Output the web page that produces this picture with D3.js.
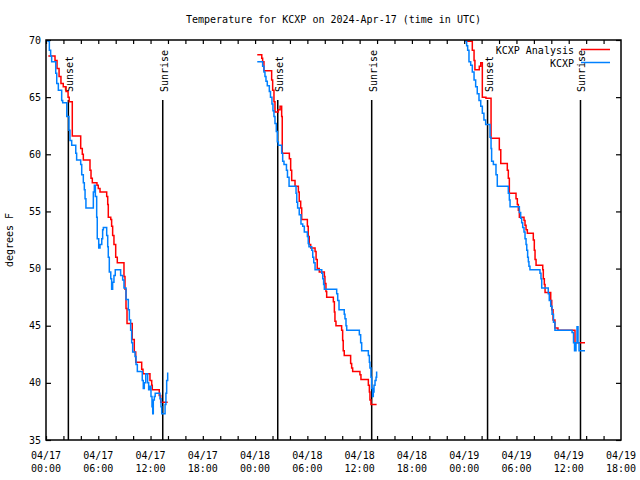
<!DOCTYPE html>
<html><head><meta charset="utf-8">
<script src="https://cdn.jsdelivr.net/npm/d3@7/dist/d3.min.js"></script>
<style>
body{margin:0;background:#fff}
svg{display:block}
text{font-family:"DejaVu Sans Mono",monospace;font-size:10px;fill:#000}
</style></head><body>
<svg id="c" width="640" height="480"></svg>
<script>
// ---------- data (minutes after 2024-04-17 00:00 UTC, temperature in F) ----------
const obsMinutes = [
  9,23,32,39,67,74,85,108,115,143,158,165,177,205,211,239,246,257,264,269,275,326,333,340,349,353,363,372,384,390,395,418,425,429,436,446,452,459,468,477,514,528,537,551,567,574,583,590,597,613,620,629,663,670,677,687,700,707,716,723,730,735,739,746,752,785,792,797,820,826,831,838,
  1455,1492,1501,1508,1515,1524,1538,1546,1556,1563,1570,1577,1586,1593,1600,1623,1630,1639,1656,1663,1674,1722,1727,1733,1744,1756,1768,1779,1800,1806,1811,1830,1837,1844,1853,1899,1906,1912,1917,2002,2009,2018,2054,2059,2066,2071,2158,2167,2174,2220,2227,2231,2238,2243,2249,2254,2259,2266,2273,2277,
  2886,2897,2904,2913,2925,2936,2948,2959,2970,2982,2994,3005,3016,3028,3058,3065,3069,3081,3099,3108,3184,3191,3196,3260,3269,3276,3283,3292,3299,3306,3311,3317,3322,3326,3333,3402,3409,3414,3459,3466,3476,3485,3495,3505,3623,3633,3640,3650,3657,3664,3671,3712
];
const obsTemps = [
  69.9,69.1,68.6,68.1,67.1,66.2,65.6,64.7,64.5,63.3,62.1,61.2,60.8,60.1,59.5,59.1,58.2,57.5,56.9,56.1,55.3,56.7,57.3,56.3,54.5,52.6,51.8,52.1,52.6,53.4,53.6,52.9,51.9,51.0,49.7,49.1,48.2,48.8,49.4,49.9,49.4,49.0,48.3,47.3,46.4,45.5,44.6,43.5,42.7,42.3,41.6,41.0,40.2,39.5,40.0,40.8,40.0,39.4,39.7,38.8,37.9,37.3,38.5,38.8,39.1,38.6,37.9,37.3,38.1,39.1,40.2,40.9,
  68.1,67.7,67.2,66.8,66.4,66.0,65.5,65.0,64.4,63.8,63.3,62.7,62.0,61.1,60.8,60.1,59.4,59.1,58.6,58.0,57.2,56.6,55.8,55.3,54.7,53.9,53.7,53.2,52.8,52.2,51.9,51.6,51.0,50.5,49.9,49.6,49.1,48.6,48.2,47.8,47.2,46.4,46.0,45.6,45.0,44.6,44.2,43.5,42.8,42.4,41.8,41.3,40.5,39.5,38.8,39.2,39.8,40.2,40.5,41.0,
  69.9,69.5,69.1,68.1,67.8,67.2,66.5,65.9,65.3,64.7,64.2,63.6,63.0,62.6,61.5,60.5,59.4,59.1,58.2,57.2,56.6,56.0,55.4,54.9,54.4,54.0,53.6,53.2,52.6,52.1,51.6,51.0,50.6,50.2,49.9,49.6,49.1,48.3,47.8,47.2,46.7,46.0,45.3,44.6,44.4,43.5,42.8,43.5,44.9,43.5,42.8,42.8
];
const anaMinutes = [
  16,62,76,90,103,119,138,152,160,181,239,250,257,303,310,319,351,360,372,418,425,429,446,452,459,468,480,491,537,544,551,558,594,608,618,659,668,716,728,732,780,790,838,
  1455,1486,1492,1501,1554,1561,1570,1577,1600,1612,1623,1627,1676,1685,1692,1715,1738,1744,1754,1761,1800,1806,1813,1823,1853,1860,1868,1882,1917,1921,1928,1933,1979,1986,1990,1997,2036,2043,2047,2054,2098,2105,2112,2162,2169,2220,2227,2231,2238,2277,
  2886,2936,2948,2954,2984,2994,3005,3030,3065,3122,3132,3177,3184,3191,3237,3246,3253,3260,3292,3299,3306,3315,3356,3363,3368,3375,3421,3425,3432,3437,3476,3483,3492,3505,3526,3643,3712
];
const anaTemps = [
  68.6,68.2,67.5,66.8,66.2,65.9,65.5,65.0,64.6,61.6,60.5,60.0,59.5,58.6,57.9,57.5,57.3,57.0,56.7,56.3,55.6,54.5,54.3,53.7,52.9,52.1,51.0,50.5,49.3,48.2,46.5,45.2,43.8,42.7,41.8,41.2,40.8,40.2,39.8,39.4,38.9,38.3,38.3,
  68.7,68.4,68.1,67.3,66.5,65.6,64.6,63.7,63.9,64.2,63.3,60.1,59.6,58.6,57.7,57.2,56.7,55.9,55.3,54.3,53.7,52.8,52.1,51.8,51.5,50.8,50.0,49.7,49.3,48.7,48.0,47.5,47.1,46.2,45.4,45.0,44.6,43.7,42.8,42.4,41.7,41.3,41.0,40.7,40.3,39.8,39.2,38.5,38.1,38.1,
  69.9,69.1,68.2,67.4,67.7,68.0,65.0,64.9,61.4,60.4,59.2,58.6,57.9,56.6,56.1,55.6,55.1,54.5,54.2,53.8,53.4,53.1,52.5,51.6,50.8,50.3,49.9,49.1,48.6,47.9,47.2,46.4,45.5,44.8,44.6,43.5,43.5
];
const sunsetTimes  = ["2024-04-17T02:34Z","2024-04-18T02:36Z","2024-04-19T02:41Z"];
const sunriseTimes = ["2024-04-17T13:24Z","2024-04-18T13:23Z","2024-04-19T13:21Z"];
const yTicks = [35,40,45,50,55,60,65,70];
const xStart = "2024-04-17T00:00Z", xEnd = "2024-04-19T18:00Z";
const titleText = "Temperature for KCXP on 2024-Apr-17 (time in UTC)";
const yLabel = "degrees F";
const seriesNames = ["KCXP Analysis","KCXP"];
const seriesColors = ["#ff0000","#0080ff"];

// ---------- drawing ----------
const svg = d3.select("#c");
const L = 46, R = 621, T = 40, B = 440;
const t0 = new Date(xStart);
const toDate = m => new Date(t0.getTime() + m * 60000);
const x = d3.scaleUtc().domain([new Date(xStart), new Date(xEnd)]).range([L, R]);
const y = d3.scaleLinear().domain([35, 70]).range([B, T]);

svg.append("rect").attr("width",640).attr("height",480).attr("fill","#fff");

// ticks (gnuplot style: inward, mirrored)
const minor = d3.utcHour.every(2).range(new Date(xStart), new Date(xEnd));
const major = d3.utcHour.every(6).range(new Date(xStart), new Date(new Date(xEnd).getTime()+1));
const fmtTop = d3.utcFormat("%m/%d"), fmtBot = d3.utcFormat("%H:%M");

function styleAxis(g){ g.select(".domain").remove(); g.selectAll("line").attr("stroke","#000").attr("stroke-width",1.2); }

svg.append("g").attr("transform",`translate(0,${B})`)
  .call(d3.axisBottom(x).tickValues(minor).tickSize(-4).tickFormat(""))
  .call(styleAxis);
svg.append("g").attr("transform",`translate(0,${T})`)
  .call(d3.axisTop(x).tickValues(minor).tickSize(-4).tickFormat(""))
  .call(styleAxis);
svg.append("g").attr("transform",`translate(${L},0)`)
  .call(d3.axisLeft(y).tickValues(yTicks).tickSize(-5).tickFormat(""))
  .call(styleAxis);
svg.append("g").attr("transform",`translate(${R},0)`)
  .call(d3.axisRight(y).tickValues(yTicks).tickSize(-5).tickFormat(""))
  .call(styleAxis);

// x labels
const xl = svg.append("g");
major.forEach(d=>{
  const t = xl.append("text").attr("text-anchor","middle").attr("x",x(d));
  t.append("tspan").attr("x",x(d)).attr("y",459).text(fmtTop(d));
  t.append("tspan").attr("x",x(d)).attr("y",472).text(fmtBot(d));
});
// y labels
svg.append("g").selectAll("text").data(yTicks).join("text")
  .attr("x",41).attr("y",d=>y(d)+3.5).attr("text-anchor","end").text(d=>d);

// sunrise / sunset
const events = sunsetTimes.map(s=>({t:new Date(s),label:"Sunset"}))
  .concat(sunriseTimes.map(s=>({t:new Date(s),label:"Sunrise"})));
const ev = svg.append("g");
events.forEach(e=>{
  const xx = x(e.t);
  ev.append("line").attr("x1",xx).attr("x2",xx).attr("y1",100).attr("y2",B)
    .attr("stroke","#000").attr("stroke-width",1.5);
  ev.append("text").attr("transform",`translate(${xx+5},92) rotate(-90)`)
    .attr("text-anchor","start").text(e.label);
});

// series
function segments(mins, temps){
  const segs=[]; let cur=[];
  mins.forEach((m,i)=>{
    if(cur.length && m - mins[i-1] > 120){ segs.push(cur); cur=[]; }
    cur.push({t:toDate(m), v:temps[i]});
  });
  if(cur.length) segs.push(cur);
  return segs;
}
const line = d3.line().x(d=>x(d.t)).y(d=>y(d.v)).curve(d3.curveStepAfter);
const seriesData = [segments(anaMinutes, anaTemps), segments(obsMinutes, obsTemps)];
seriesData.forEach((segs,k)=>{
  svg.append("g").selectAll("path").data(segs).join("path")
    .attr("d",line).attr("fill","none").attr("stroke",seriesColors[k])
    .attr("stroke-width",1.5).attr("stroke-linejoin","miter");
});

// border
svg.append("rect").attr("x",L).attr("y",T).attr("width",R-L).attr("height",B-T)
  .attr("fill","none").attr("stroke","#000").attr("stroke-width",1.5);

// legend
seriesNames.forEach((n,i)=>{
  const yy = 50 + i*13;
  svg.append("text").attr("x",574).attr("y",yy+3.5).attr("text-anchor","end").text(n);
  svg.append("line").attr("x1",581).attr("x2",610).attr("y1",yy-0.5).attr("y2",yy-0.5)
    .attr("stroke",seriesColors[i]).attr("stroke-width",1.5);
});

// title and axis label
svg.append("text").attr("x",(L+R)/2).attr("y",23).attr("text-anchor","middle").text(titleText);
svg.append("text").attr("transform","translate(13,240) rotate(-90)").attr("text-anchor","middle").text(yLabel);
</script></body></html>
